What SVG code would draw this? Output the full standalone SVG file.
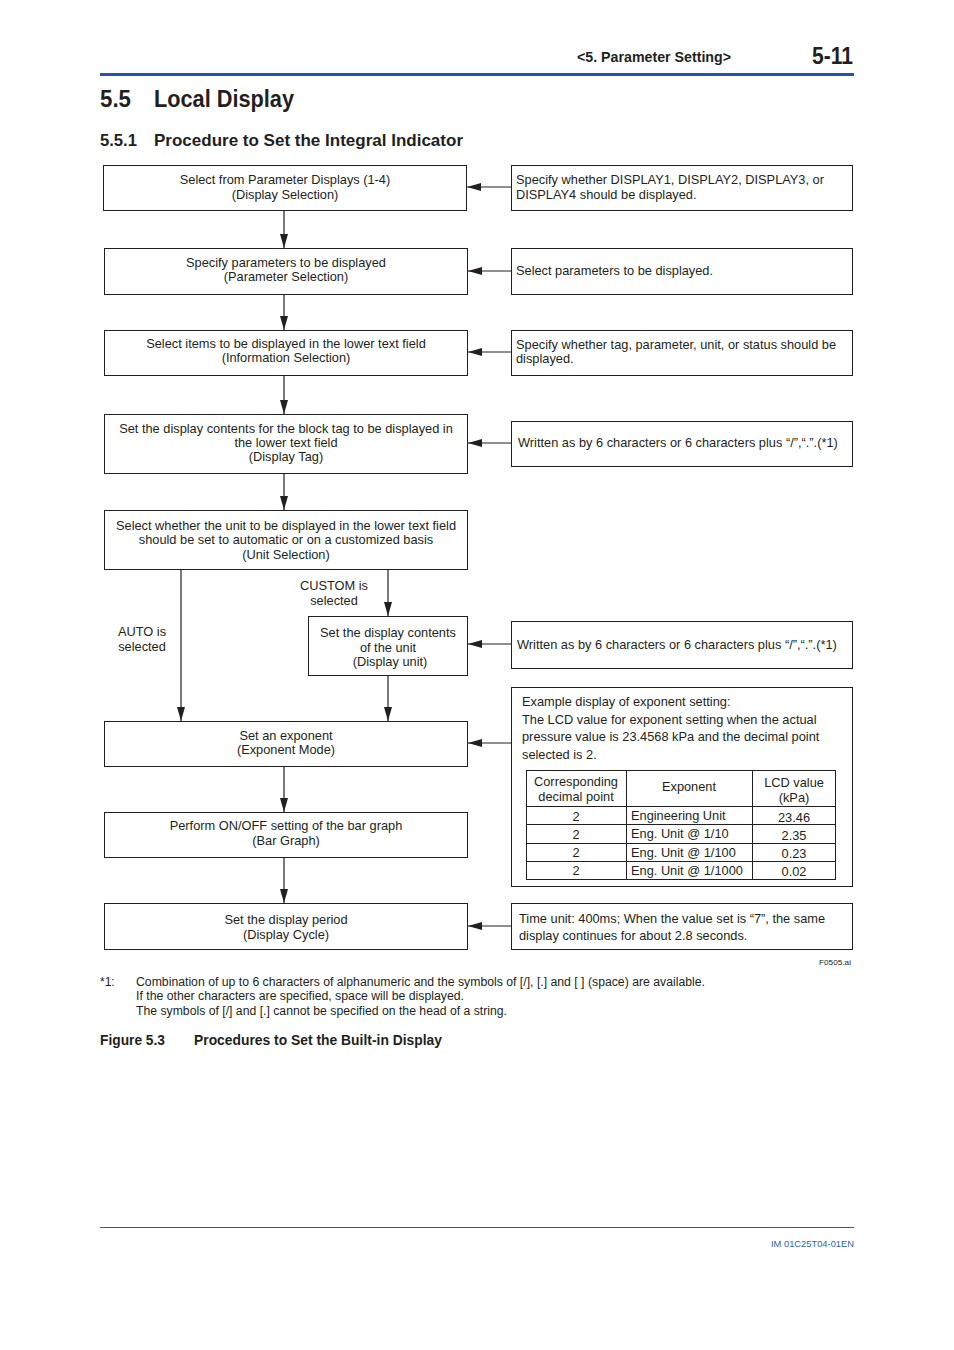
<svg xmlns="http://www.w3.org/2000/svg" width="954" height="1350" viewBox="0 0 954 1350">
<style>
.t{font-family:"Liberation Sans",Arial,sans-serif;font-size:12.8px;fill:#231f20}
.m{text-anchor:middle}
.b{font-weight:bold}
.box{fill:#fff;stroke:#231f20;stroke-width:1}
.ln{stroke:#231f20;stroke-width:1.2;fill:none}
.tl{stroke:#231f20;stroke-width:1;fill:none}
</style>
<defs>
<marker id="ah" viewBox="0 0 14 8" refX="14" refY="4" markerWidth="14" markerHeight="8" markerUnits="userSpaceOnUse" orient="auto">
<path d="M0,0 L14,4 L0,8 Z" fill="#231f20"/>
</marker>
</defs>
<rect width="954" height="1350" fill="#fff"/>
<g id="header">
<text class="t b" x="731" y="62" style="font-size:15px" text-anchor="end" textLength="154" lengthAdjust="spacingAndGlyphs">&lt;5.  Parameter Setting&gt;</text>
<text class="t b" x="853" y="64" style="font-size:24px" text-anchor="end" textLength="41" lengthAdjust="spacingAndGlyphs">5-11</text>
<rect x="100" y="73" width="754" height="3" fill="#1f54b0"/>
<text class="t b" x="100" y="107" style="font-size:23px" textLength="31" lengthAdjust="spacingAndGlyphs">5.5</text>
<text class="t b" x="154" y="107" style="font-size:23px" textLength="140" lengthAdjust="spacingAndGlyphs">Local Display</text>
<text class="t b" x="100" y="146" style="font-size:17px" textLength="37" lengthAdjust="spacingAndGlyphs">5.5.1</text>
<text class="t b" x="154" y="146" style="font-size:17px" textLength="309" lengthAdjust="spacingAndGlyphs">Procedure to Set the Integral Indicator</text>
</g>
<g id="connectors">
<line class="ln" x1="511" y1="187" x2="467" y2="187" marker-end="url(#ah)"/>
<line class="ln" x1="511" y1="271" x2="468" y2="271" marker-end="url(#ah)"/>
<line class="ln" x1="511" y1="352" x2="468" y2="352" marker-end="url(#ah)"/>
<line class="ln" x1="511" y1="443" x2="468" y2="443" marker-end="url(#ah)"/>
<line class="ln" x1="511" y1="644" x2="468" y2="644" marker-end="url(#ah)"/>
<line class="ln" x1="511" y1="743" x2="468" y2="743" marker-end="url(#ah)"/>
<line class="ln" x1="511" y1="926" x2="468" y2="926" marker-end="url(#ah)"/>
<line class="ln" x1="284" y1="210" x2="284" y2="248" marker-end="url(#ah)"/>
<line class="ln" x1="284" y1="294" x2="284" y2="330" marker-end="url(#ah)"/>
<line class="ln" x1="284" y1="375" x2="284" y2="414" marker-end="url(#ah)"/>
<line class="ln" x1="284" y1="473" x2="284" y2="510" marker-end="url(#ah)"/>
<line class="ln" x1="181" y1="569" x2="181" y2="721" marker-end="url(#ah)"/>
<line class="ln" x1="388" y1="569" x2="388" y2="616" marker-end="url(#ah)"/>
<line class="ln" x1="388" y1="675" x2="388" y2="721" marker-end="url(#ah)"/>
<line class="ln" x1="284" y1="766" x2="284" y2="812" marker-end="url(#ah)"/>
<line class="ln" x1="284" y1="857" x2="284" y2="903" marker-end="url(#ah)"/>
</g>
<g id="n1"><rect class="box" x="103.5" y="165.5" width="363" height="45"/>
<text class="t m" x="285" y="184">Select from Parameter Displays (1-4)</text>
<text class="t m" x="285" y="199">(Display Selection)</text></g>
<g id="r1"><rect class="box" x="511.5" y="165.5" width="341" height="45"/>
<text class="t" x="516" y="184">Specify whether DISPLAY1, DISPLAY2, DISPLAY3, or</text>
<text class="t" x="516" y="199">DISPLAY4 should be displayed.</text></g>
<g id="n2"><rect class="box" x="104.5" y="248.5" width="363" height="46"/>
<text class="t m" x="286" y="267">Specify parameters to be displayed</text>
<text class="t m" x="286" y="281">(Parameter Selection)</text></g>
<g id="r2"><rect class="box" x="511.5" y="248.5" width="341" height="46"/>
<text class="t" x="516" y="275">Select parameters to be displayed.</text></g>
<g id="n3"><rect class="box" x="104.5" y="330.5" width="363" height="45"/>
<text class="t m" x="286" y="348">Select items to be displayed in the lower text field</text>
<text class="t m" x="286" y="362">(Information Selection)</text></g>
<g id="r3"><rect class="box" x="511.5" y="330.5" width="341" height="45"/>
<text class="t" x="516" y="349">Specify whether tag, parameter, unit, or status should be</text>
<text class="t" x="516" y="363">displayed.</text></g>
<g id="n4"><rect class="box" x="104.5" y="414.5" width="363" height="59"/>
<text class="t m" x="286" y="433">Set the display contents for the block tag to be displayed in</text>
<text class="t m" x="286" y="447">the lower text field</text>
<text class="t m" x="286" y="461">(Display Tag)</text></g>
<g id="r4"><rect class="box" x="511.5" y="421.5" width="341" height="45"/>
<text class="t" x="518" y="447">Written as by 6 characters or 6 characters plus “/”,“.”.(*1)</text></g>
<g id="n5"><rect class="box" x="104.5" y="510.5" width="363" height="59"/>
<text class="t m" x="286" y="530">Select whether the unit to be displayed in the lower text field</text>
<text class="t m" x="286" y="544">should be set to automatic or on a customized basis</text>
<text class="t m" x="286" y="559">(Unit Selection)</text></g>
<g id="lbl-custom">
<text class="t m" x="334" y="590">CUSTOM is</text>
<text class="t m" x="334" y="605">selected</text></g>
<g id="lbl-auto">
<text class="t m" x="142" y="636">AUTO is</text>
<text class="t m" x="142" y="651">selected</text></g>
<g id="n6"><rect class="box" x="308.5" y="616.5" width="159" height="59"/>
<text class="t m" x="388" y="637">Set the display contents</text>
<text class="t m" x="388" y="652">of the unit</text>
<text class="t m" x="390" y="666">(Display unit)</text></g>
<g id="r5"><rect class="box" x="511.5" y="621.5" width="341" height="47"/>
<text class="t" x="517" y="649">Written as by 6 characters or 6 characters plus “/”,“.”.(*1)</text></g>
<g id="n7"><rect class="box" x="104.5" y="721.5" width="363" height="45"/>
<text class="t m" x="286" y="740">Set an exponent</text>
<text class="t m" x="286" y="754">(Exponent Mode)</text></g>
<g id="r6"><rect class="box" x="511.5" y="687.5" width="341" height="199"/>
<text class="t" x="522" y="706">Example display of exponent setting:</text>
<text class="t" x="522" y="724">The LCD value for exponent setting when the actual</text>
<text class="t" x="522" y="741">pressure value is 23.4568 kPa and the decimal point</text>
<text class="t" x="522" y="759">selected is 2.</text>
<rect class="tl" x="526.5" y="770.5" width="309" height="109"/>
<line class="tl" x1="626.5" y1="770" x2="626.5" y2="880"/>
<line class="tl" x1="752.5" y1="770" x2="752.5" y2="880"/>
<line class="tl" x1="526" y1="806.5" x2="836" y2="806.5"/>
<line class="tl" x1="526" y1="824.5" x2="836" y2="824.5"/>
<line class="tl" x1="526" y1="843.5" x2="836" y2="843.5"/>
<line class="tl" x1="526" y1="861.5" x2="836" y2="861.5"/>
<text class="t m" x="576" y="786">Corresponding</text>
<text class="t m" x="576" y="801">decimal point</text>
<text class="t m" x="689" y="791">Exponent</text>
<text class="t m" x="794" y="787">LCD value</text>
<text class="t m" x="794" y="802">(kPa)</text>
<text class="t m" x="576" y="821">2</text>
<text class="t m" x="576" y="839">2</text>
<text class="t m" x="576" y="857">2</text>
<text class="t m" x="576" y="875">2</text>
<text class="t" x="631" y="820">Engineering Unit</text>
<text class="t" x="631" y="838">Eng. Unit @ 1/10</text>
<text class="t" x="631" y="857">Eng. Unit @ 1/100</text>
<text class="t" x="631" y="875">Eng. Unit @ 1/1000</text>
<text class="t m" x="794" y="822">23.46</text>
<text class="t m" x="794" y="840">2.35</text>
<text class="t m" x="794" y="858">0.23</text>
<text class="t m" x="794" y="876">0.02</text></g>
<g id="n8"><rect class="box" x="104.5" y="812.5" width="363" height="45"/>
<text class="t m" x="286" y="830">Perform ON/OFF setting of the bar graph</text>
<text class="t m" x="286" y="845">(Bar Graph)</text></g>
<g id="n9"><rect class="box" x="104.5" y="903.5" width="363" height="46"/>
<text class="t m" x="286" y="924">Set the display period</text>
<text class="t m" x="286" y="939">(Display Cycle)</text></g>
<g id="r7"><rect class="box" x="511.5" y="903.5" width="341" height="46"/>
<text class="t" x="519" y="923">Time unit: 400ms; When the value set is “7”, the same</text>
<text class="t" x="519" y="940">display continues for about 2.8 seconds.</text></g>
<g id="notes">
<text class="t" x="851" y="965" style="font-size:7.5px" text-anchor="end" textLength="32" lengthAdjust="spacingAndGlyphs">F0505.ai</text>
<text class="t" x="100" y="986" style="font-size:12px">*1:</text>
<text class="t" x="136" y="986" style="font-size:12.5px" textLength="569" lengthAdjust="spacingAndGlyphs">Combination of up to 6 characters of alphanumeric and the symbols of [/], [.] and [ ] (space) are available.</text>
<text class="t" x="136" y="1000" style="font-size:12.5px" textLength="328" lengthAdjust="spacingAndGlyphs">If the other characters are specified, space will be displayed.</text>
<text class="t" x="136" y="1015" style="font-size:12.5px" textLength="371" lengthAdjust="spacingAndGlyphs">The symbols of [/] and [.] cannot be specified on the head of a string.</text>
<text class="t b" x="100" y="1045" style="font-size:14.5px" textLength="65" lengthAdjust="spacingAndGlyphs">Figure 5.3</text>
<text class="t b" x="194" y="1045" style="font-size:14.5px" textLength="248" lengthAdjust="spacingAndGlyphs">Procedures to Set the Built-in Display</text>
</g>
<g id="footer">
<line x1="100" y1="1227.5" x2="854" y2="1227.5" stroke="#3a5a90" stroke-width="1"/>
<text class="t" x="854" y="1247" style="font-size:9.5px;fill:#2e5fb0" text-anchor="end" textLength="83" lengthAdjust="spacingAndGlyphs">IM 01C25T04-01EN</text>
</g>
</svg>
